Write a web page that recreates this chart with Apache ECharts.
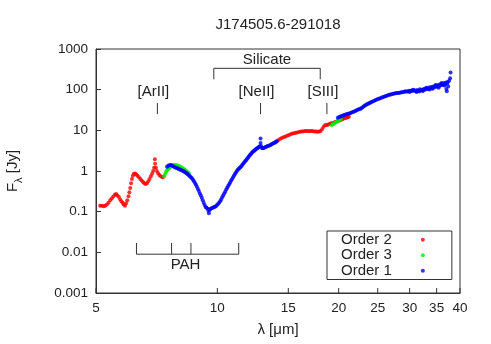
<!DOCTYPE html>
<html>
<head>
<meta charset="utf-8">
<script src="https://cdn.jsdelivr.net/npm/echarts@6/dist/echarts.min.js"></script>
<style>
  html, body { margin: 0; padding: 0; background: #fff; }
  #main { width: 491px; height: 344px; }
</style>
</head>
<body>
<div id="main"></div>
<script>
// spectrum points, [wavelength um, flux Jy]
const order2 = [
  [5.12, 0.14], [5.17, 0.14], [5.22, 0.135], [5.27, 0.14], [5.32, 0.15], [5.37, 0.165], [5.42, 0.19],
  [5.47, 0.21], [5.52, 0.235], [5.57, 0.26], [5.61, 0.27], [5.65, 0.25], [5.70, 0.23], [5.74, 0.2],
  [5.78, 0.18], [5.82, 0.165], [5.86, 0.15], [5.9, 0.14], [5.94, 0.16], [5.98, 0.19], [6.02, 0.24],
  [6.05, 0.3], [6.08, 0.38], [6.11, 0.5], [6.14, 0.64], [6.17, 0.76], [6.21, 0.86], [6.25, 0.87],
  [6.29, 0.82], [6.34, 0.76], [6.39, 0.7], [6.44, 0.64], [6.49, 0.58], [6.54, 0.54], [6.59, 0.5],
  [6.64, 0.48], [6.69, 0.5], [6.74, 0.56], [6.79, 0.64], [6.84, 0.74], [6.89, 0.86], [6.93, 1.0],
  [6.97, 1.2], [7.0, 1.95], [7.01, 1.5], [7.04, 1.2], [7.08, 1.0], [7.13, 0.88], [7.18, 0.8],
  [7.24, 0.74], [7.3, 0.7], [7.35, 0.72],
  [14.0, 5.3], [14.15, 5.7], [14.3, 6.1], [14.45, 6.5], [14.6, 6.8], [14.75, 7.1], [14.9, 7.4],
  [15.05, 7.7], [15.2, 8.0], [15.35, 8.3], [15.5, 8.5], [15.65, 8.7], [15.8, 8.9], [15.95, 9.1],
  [16.1, 9.3], [16.25, 9.4], [16.4, 9.5], [16.55, 9.6], [16.7, 9.6], [16.85, 9.5], [17.0, 9.6],
  [17.15, 9.6], [17.3, 9.5], [17.45, 9.4], [17.6, 9.3], [17.75, 9.2], [17.9, 9.3], [18.05, 9.6],
  [18.2, 10.8], [18.35, 12.3], [18.5, 13.3], [18.65, 13.6], [18.8, 13.8], [18.95, 14.3], [19.1, 14.8],
  [19.25, 15.0], [19.4, 15.2], [19.55, 15.8], [19.7, 16.2], [19.85, 16.8], [20.0, 17.3], [20.15, 17.8],
  [20.3, 18.3], [20.45, 18.9], [20.6, 19.5], [20.75, 20.0], [20.9, 20.4], [21.05, 21.0], [21.2, 21.5]
];
const order3 = [
  [7.38, 0.74], [7.42, 0.84], [7.46, 0.94], [7.5, 1.03], [7.54, 1.1], [7.58, 1.16], [7.62, 1.22],
  [7.66, 1.28], [7.7, 1.33], [7.75, 1.38], [7.8, 1.41], [7.85, 1.4], [7.9, 1.38], [7.95, 1.36],
  [8.0, 1.34], [8.05, 1.31], [8.1, 1.27], [8.15, 1.22], [8.2, 1.17], [8.25, 1.12], [8.3, 1.07],
  [8.35, 1.02], [8.4, 0.97], [8.45, 0.92], [8.5, 0.88],
  [19.2, 13.4], [19.35, 14.1], [19.5, 14.8], [19.65, 15.5], [19.8, 16.3], [19.95, 17.1],
  [20.1, 17.9], [20.25, 18.6]
];
const order1 = [
  [7.5, 1.28], [7.55, 1.34], [7.6, 1.38], [7.65, 1.4], [7.7, 1.38], [7.75, 1.33], [7.8, 1.28],
  [7.85, 1.24], [7.9, 1.2], [7.95, 1.17], [8.0, 1.14], [8.05, 1.11], [8.1, 1.08], [8.15, 1.05],
  [8.2, 1.02], [8.25, 0.99], [8.3, 0.95], [8.35, 0.91], [8.4, 0.87], [8.45, 0.83], [8.5, 0.79],
  [8.55, 0.74], [8.6, 0.7], [8.65, 0.66], [8.7, 0.61], [8.75, 0.56], [8.8, 0.51], [8.85, 0.46],
  [8.9, 0.41], [8.95, 0.36], [9.0, 0.32], [9.05, 0.28], [9.1, 0.25], [9.15, 0.22], [9.2, 0.19],
  [9.25, 0.165], [9.3, 0.145], [9.35, 0.13], [9.4, 0.125], [9.45, 0.12], [9.5, 0.105], [9.53, 0.092],
  [9.57, 0.11], [9.62, 0.118], [9.68, 0.122], [9.74, 0.125], [9.8, 0.128], [9.86, 0.132], [9.92, 0.136],
  [9.98, 0.145], [10.04, 0.155], [10.1, 0.165], [10.16, 0.18], [10.22, 0.2], [10.28, 0.225],
  [10.34, 0.25], [10.4, 0.28], [10.46, 0.31], [10.52, 0.35], [10.58, 0.39], [10.64, 0.43],
  [10.7, 0.47], [10.76, 0.52], [10.82, 0.58], [10.88, 0.64], [10.94, 0.7], [11.0, 0.77],
  [11.06, 0.84], [11.12, 0.92], [11.18, 1.0], [11.24, 1.08], [11.3, 1.13], [11.36, 1.18],
  [11.42, 1.25], [11.48, 1.33], [11.54, 1.42], [11.6, 1.52], [11.66, 1.62], [11.72, 1.73],
  [11.78, 1.85], [11.84, 1.97], [11.9, 2.1], [11.96, 2.25], [12.02, 2.4], [12.08, 2.55],
  [12.14, 2.7], [12.2, 2.85], [12.26, 3.0], [12.32, 3.12], [12.38, 3.25], [12.44, 3.38],
  [12.5, 3.5], [12.56, 3.62], [12.62, 3.75], [12.68, 3.9], [12.74, 4.05], [12.8, 6.3], [12.8, 4.9],
  [12.84, 4.1], [12.9, 3.7], [12.96, 3.65], [13.02, 3.7], [13.1, 3.8], [13.18, 3.9], [13.26, 4.0],
  [13.34, 4.1], [13.42, 4.2], [13.5, 4.3], [13.58, 4.45], [13.66, 4.6], [13.74, 4.75], [13.82, 4.9],
  [13.9, 5.05], [13.98, 5.25], [14.05, 5.4],
  [19.9, 20.5], [20.05, 21.3], [20.2, 22.0], [20.35, 22.6], [20.5, 23.2], [20.65, 23.8], [20.8, 24.4],
  [20.95, 25.0], [21.1, 25.6], [21.25, 26.1], [21.4, 26.6], [21.55, 27.3], [21.7, 28.2], [21.85, 29.2],
  [22.0, 30.0], [22.15, 31.0], [22.3, 32.0], [22.45, 32.8], [22.6, 33.5], [22.75, 35.0], [22.9, 36.5],
  [23.05, 38.3], [23.2, 40.0], [23.35, 41.8], [23.5, 43.5], [23.65, 45.0], [23.8, 46.5], [23.95, 48.0],
  [24.1, 49.5], [24.3, 51.5], [24.5, 53.5], [24.7, 55.5], [24.9, 57.5], [25.1, 59.5], [25.3, 61.0],
  [25.5, 63.0], [25.7, 65.0], [25.9, 67.0], [26.1, 69.0], [26.3, 71.0], [26.5, 73.0], [26.7, 75.0],
  [26.9, 76.5], [27.1, 77.5], [27.3, 79.0], [27.5, 80.5], [27.7, 81.5], [27.9, 82.5], [28.1, 83.0],
  [28.3, 84.0], [28.5, 85.0], [28.7, 86.5], [28.9, 88.0], [29.1, 89.0], [29.3, 91.0], [29.5, 89.0],
  [29.7, 92.0], [29.9, 94.0], [30.1, 91.0], [30.3, 96.0], [30.5, 93.0], [30.7, 97.0], [30.9, 95.0],
  [31.1, 92.0], [31.3, 98.0], [31.5, 94.0], [31.7, 90.0], [31.9, 97.0], [32.1, 100], [32.3, 93.0],
  [32.5, 104], [32.7, 99.0], [32.9, 107], [33.1, 102], [33.3, 111], [33.5, 106], [33.7, 114],
  [33.9, 109], [34.1, 118], [34.3, 112], [34.5, 121], [34.7, 115], [34.9, 126], [35.1, 119],
  [35.3, 130], [35.5, 122], [35.7, 135], [35.9, 128], [36.1, 140], [36.3, 131], [36.5, 145],
  [36.7, 136], [36.9, 150], [37.0, 104], [37.1, 92], [37.2, 140], [37.4, 120], [37.6, 165],
  [37.8, 190], [37.9, 265],
  [30.0, 88.0], [30.6, 100], [31.2, 88.0], [31.8, 102], [32.4, 96.0], [33.0, 112], [33.6, 101],
  [34.2, 106], [34.8, 130], [35.4, 112], [36.0, 146], [36.6, 127], [37.3, 155]
];

const seriesNames = ['Order 2', 'Order 3', 'Order 1'];
const seriesColors = ['#ff0000', '#00ee00', '#0000ff'];
const xTicks = [5, 10, 15, 20, 25, 30, 35, 40];

// annotations
const lineNames = ['[ArII]', '[NeII]', '[SIII]'];
const lineWaves = [7.1, 12.8, 18.7];
const silicateRange = [9.8, 18.0];
const pahBands = [6.3, 7.7, 8.6, 11.3];

const FONT = '"Liberation Sans", Arial, Helvetica, sans-serif';
const INK = '#222';
const chart = echarts.init(document.getElementById('main'));

chart.setOption({
  animation: false,
  grid: {
    left: 96, right: 31, top: 49, bottom: 51,
    outerBoundsMode: 'none',
    containLabel: false,
    show: true, borderColor: '#333', borderWidth: 1
  },
  legend: {
    data: seriesNames,
    orient: 'vertical',
    left: 327,
    top: 231,
    align: 'right',
    icon: 'circle',
    itemWidth: 4,
    itemHeight: 4,
    itemGap: 0,
    padding: [1, 27, 1, 14],
    borderColor: '#333',
    borderWidth: 1,
    textStyle: { fontFamily: FONT, fontSize: 15, color: INK, lineHeight: 15.5, padding: [0, 24, 0, 0] }
  },
  xAxis: {
    type: 'log',
    logBase: 10,
    min: 5,
    max: 40,
    name: 'λ [μm]',
    nameLocation: 'middle',
    nameGap: 29,
    nameTextStyle: { fontFamily: FONT, fontSize: 15, color: INK },
    axisLine: { lineStyle: { color: '#333' } },
    axisTick: { show: false },
    axisLabel: { show: false },
    splitLine: { show: false }
  },
  yAxis: {
    type: 'log',
    logBase: 10,
    min: 0.001,
    max: 1000,
    name: 'F{s|λ} [Jy]',
    nameLocation: 'middle',
    nameRotate: 90,
    nameGap: 72,
    nameTextStyle: {
      fontFamily: FONT, fontSize: 15, color: INK, lineHeight: 22,
      rich: { s: { fontFamily: FONT, fontSize: 11, color: INK, lineHeight: 11, verticalAlign: 'bottom' } }
    },
    axisLine: { show: true, lineStyle: { color: '#333' } },
    axisTick: { inside: true, length: 5, lineStyle: { color: '#333' } },
    axisLabel: {
      fontFamily: FONT, fontSize: 13.5, color: INK, margin: 8,
      formatter: v => String(Number(v.toPrecision(6)))
    },
    splitLine: { show: false }
  },
  series: [order2, order3, order1].map((d, i) => ({
    name: seriesNames[i],
    type: 'scatter',
    data: d,
    symbol: 'circle',
    symbolSize: 4,
    itemStyle: { color: seriesColors[i] },
    emphasis: { disabled: true }
  }))
});

// ticks, labels and annotations placed through the axis scales
const px = (x, y) => chart.convertToPixel({ gridIndex: 0 }, [x, y]);
const seg = (a, b) => ({
  type: 'line', silent: true,
  shape: { x1: a[0], y1: a[1], x2: b[0], y2: b[1] },
  style: { stroke: '#333', lineWidth: 1 }
});
const txt = (text, p, size) => ({
  type: 'text', silent: true, x: p[0], y: p[1],
  style: {
    text, font: (size || 15) + 'px ' + FONT, fill: INK,
    align: 'center', verticalAlign: 'middle', textAlign: 'center', textVerticalAlign: 'middle'
  }
});

const g = [];
g.push(txt('J174505.6-291018', [(px(5, 1)[0] + px(40, 1)[0]) / 2, 25]));

xTicks.forEach(v => {
  const p = px(v, 0.001);
  g.push(seg([p[0], p[1]], [p[0], p[1] - 5]));
  g.push(txt(String(v), [p[0], p[1] + 15], 13.5));
});

lineNames.forEach((n, i) => {
  const w = lineWaves[i];
  g.push(seg(px(w, 47), px(w, 25)));
  const p = px(w, 87);
  g.push(txt(n, [p[0] - 4, p[1]]));
});

const s0 = px(silicateRange[0], 180), s1 = px(silicateRange[0], 335);
const s2 = px(silicateRange[1], 335), s3 = px(silicateRange[1], 180);
g.push({
  type: 'polyline', silent: true,
  shape: { points: [s0, s1, s2, s3] },
  style: { stroke: '#333', lineWidth: 1, fill: null }
});
g.push(txt('Silicate', [(s1[0] + s2[0]) / 2, px(10, 540)[1]]));

const pa = px(pahBands[0], 0.009), pb = px(pahBands[pahBands.length - 1], 0.009);
g.push(seg(pa, pb));
pahBands.forEach(w => g.push(seg(px(w, 0.009), px(w, 0.017))));
g.push(txt('PAH', [(pa[0] + pb[0]) / 2 - 2, px(10, 0.0049)[1]]));

chart.setOption({ graphic: g });
</script>
</body>
</html>
